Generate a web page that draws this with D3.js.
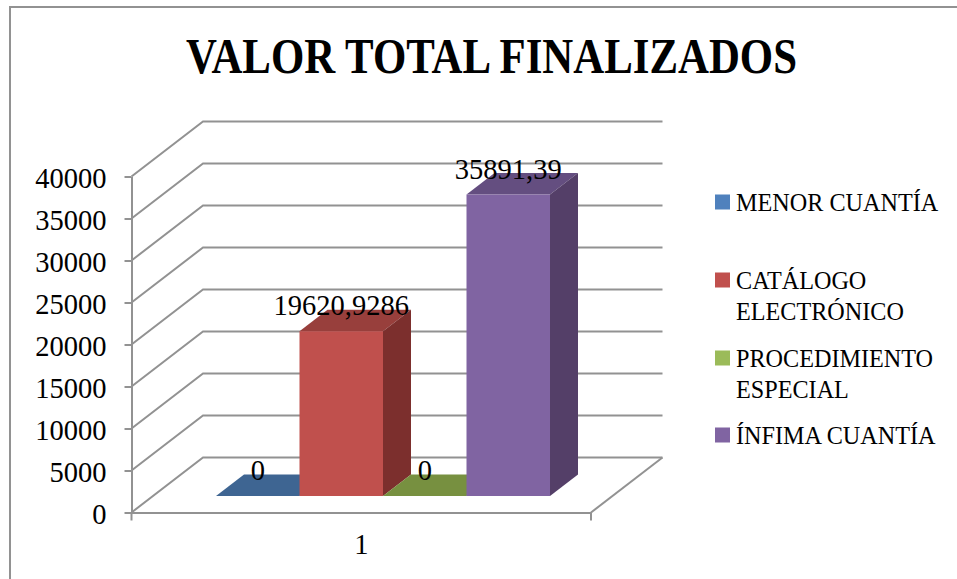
<!DOCTYPE html>
<html>
<head>
<meta charset="utf-8">
<script src="https://cdn.jsdelivr.net/npm/d3@7"></script>
<style>
  html, body { margin: 0; padding: 0; background: #fff; }
  svg { display: block; }
  text { font-family: "Liberation Serif", serif; fill: #000; }
</style>
</head>
<body>
<div id="chart"></div>
<script>
// chart data
const title = "VALOR TOTAL FINALIZADOS";
const categories = ["1"];
const seriesNames = ["MENOR CUANTÍA", "CATÁLOGO ELECTRÓNICO", "PROCEDIMIENTO ESPECIAL", "ÍNFIMA CUANTÍA"];
const seriesValues = [0, 19620.9286, 0, 35891.39];
const valueLabels = ["0", "19620,9286", "0", "35891,39"];
const yTicks = [0, 5000, 10000, 15000, 20000, 25000, 30000, 35000, 40000];

const legendLines = [["MENOR CUANTÍA"], ["CATÁLOGO", "ELECTRÓNICO"], ["PROCEDIMIENTO", "ESPECIAL"], ["ÍNFIMA CUANTÍA"]];
const legendY = [202, 280, 358, 435];
const front = ["#4f81bd", "#c0504d", "#9bbb59", "#8064a2"];
const topFace = ["#3e6592", "#983f3c", "#779040", "#644e80"];
const sideFace = ["#37577e", "#7c2f2d", "#66803a", "#543f68"];

const width = 957, height = 579;

// 3d depth of the box and of the bars
const wallDx = 71.5, wallDy = 55;
const barBaseDy = 16.5, barDx = 28, barDy = 21.5;

const svg = d3.select("#chart").append("svg")
    .attr("width", width)
    .attr("height", height);

const axisColor = "#929292";

// outer frame, the right and bottom sides are cut off by the picture
svg.append("path")
    .attr("d", "M10," + height + "V7H" + width)
    .attr("fill", "none")
    .attr("stroke", axisColor)
    .attr("stroke-width", 2);

svg.append("text")
    .attr("x", 491.5)
    .attr("y", 73)
    .attr("text-anchor", "middle")
    .attr("font-size", 50)
    .attr("font-weight", "bold")
    .attr("textLength", 611)
    .attr("lengthAdjust", "spacingAndGlyphs")
    .text(title);

const y = d3.scaleLinear().domain([0, 40000]).range([512.5, 176.5]);
const x = d3.scaleBand().domain(categories).range([131.5, 591]);
const barX = d3.scaleBand().domain(seriesNames).range([216, 550]);

const x0 = x.range()[0], x1 = x.range()[1];
const backX0 = x0 + wallDx, backX1 = x1 + wallDx;

// gridlines run along the side wall and then the back wall
const grid = svg.append("g")
    .attr("fill", "none")
    .attr("stroke", axisColor)
    .attr("stroke-width", 2);

yTicks.forEach(t => {
    let p = d3.path();
    p.moveTo(x0, y(t));
    p.lineTo(backX0, y(t) - wallDy);
    p.lineTo(backX1, y(t) - wallDy);
    grid.append("path").attr("d", p.toString());
});

// floor edge on the right
grid.append("line")
    .attr("x1", x1).attr("y1", y(0))
    .attr("x2", backX1).attr("y2", y(0) - wallDy);

// y axis
const yAxis = svg.append("g")
    .attr("transform", "translate(" + x0 + ",0)")
    .call(d3.axisLeft(y).tickValues(yTicks).tickSize(7).tickSizeOuter(0).tickPadding(18).tickFormat(d3.format("d")));
yAxis.select(".domain").attr("stroke", axisColor).attr("stroke-width", 2);
yAxis.selectAll(".tick line").attr("stroke", axisColor).attr("stroke-width", 2);
yAxis.selectAll("text")
    .attr("font-size", 28.5)
    .attr("font-family", "Liberation Serif")
    .attr("dy", "0.38em");

// x axis
const xAxis = svg.append("g")
    .attr("transform", "translate(0," + y(0) + ")")
    .call(d3.axisBottom(x).tickSize(0).tickPadding(21));
xAxis.select(".domain").attr("stroke", axisColor).attr("stroke-width", 2);
xAxis.selectAll("text")
    .attr("font-size", 28.5)
    .attr("font-family", "Liberation Serif");
[x0, x1].forEach(d => {
    xAxis.append("line")
        .attr("x1", d).attr("x2", d)
        .attr("y1", 0).attr("y2", 8)
        .attr("stroke", axisColor)
        .attr("stroke-width", 2);
});

// bars, height measured from the value scale
const bars = svg.append("g");
const barBase = y(0) - barBaseDy;

seriesNames.forEach((name, i) => {
    const left = barX(name), right = left + barX.bandwidth();
    const h = y(0) - y(seriesValues[i]);
    const top = barBase - h;

    // top face
    bars.append("polygon")
        .attr("fill", topFace[i])
        .attr("points", [[left, top], [right, top], [right + barDx, top - barDy], [left + barDx, top - barDy]].join(" "));
    if (h > 0) {
        // side face
        bars.append("polygon")
            .attr("fill", sideFace[i])
            .attr("points", [[right, top], [right + barDx, top - barDy], [right + barDx, barBase - barDy], [right, barBase]].join(" "));
        // front face
        bars.append("rect")
            .attr("x", left)
            .attr("y", top)
            .attr("width", right - left)
            .attr("height", h)
            .attr("fill", front[i]);
    }
});

// value labels sit over the back edge of each top face
const labels = svg.append("g").attr("font-size", 28.5);
seriesNames.forEach((name, i) => {
    const h = y(0) - y(seriesValues[i]);
    labels.append("text")
        .attr("x", barX(name) + barX.bandwidth() / 2)
        .attr("y", barBase - h - barDy + 5.5)
        .attr("text-anchor", "middle")
        .text(valueLabels[i]);
});

// legend
const legend = svg.append("g");
legendLines.forEach((lines, i) => {
    legend.append("rect")
        .attr("x", 715)
        .attr("y", legendY[i] - 7.5)
        .attr("width", 15)
        .attr("height", 15)
        .attr("fill", front[i]);
    lines.forEach((line, j) => {
        legend.append("text")
            .attr("x", 736)
            .attr("y", legendY[i] + 9 + j * 30.5)
            .attr("font-size", 24.2)
            .text(line);
    });
});
</script>
</body>
</html>
